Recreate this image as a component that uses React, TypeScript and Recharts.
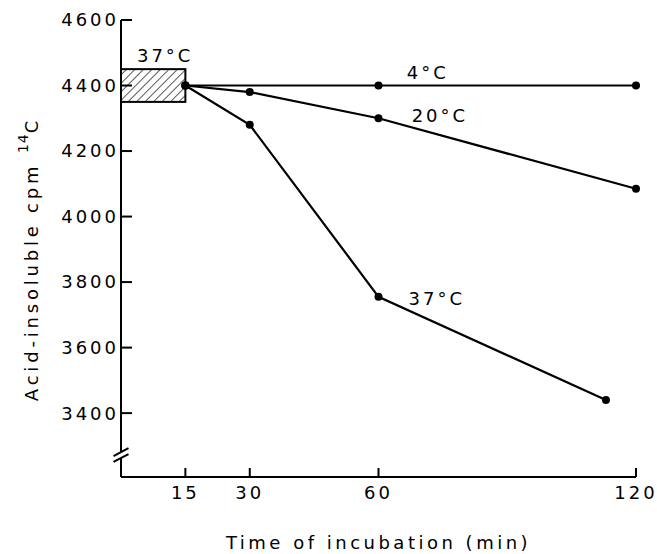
import React from 'react';
import { LineChart, Line, XAxis, YAxis, ReferenceArea, ReferenceLine, ReferenceDot } from 'recharts';

const t4 = [15, 60, 120];
const v4 = [4400, 4400, 4400];
const t20 = [15, 30, 60, 120];
const v20 = [4400, 4380, 4300, 4085];
const t37 = [15, 30, 60, 113];
const v37 = [4400, 4280, 3755, 3440];

const xTicks = [15, 30, 60, 120];
const yTicks = [3400, 3600, 3800, 4000, 4200, 4400, 4600];

// pre-incubation box (37°C, 0-15 min)
const boxX = [0, 15];
const boxY = [4350, 4450];

const notes = [
  { text: '4°C', x: 71.5, y: 4441 },
  { text: '20°C', x: 74.3, y: 4310 },
  { text: '37°C', x: 73.6, y: 3751 },
  { text: '37°C', x: 10.3, y: 4493 },
];

const toRows = (ts: number[], vs: number[]) => ts.map((t, i) => ({ t, v: vs[i] }));

const FONT = '"DejaVu Sans", sans-serif';
const txt = { fill: '#000', fontSize: 18, fontFamily: FONT, letterSpacing: 3 };

const HatchBox = (props: any) => {
  const { x, y, width, height } = props;
  return (
    <g>
      <defs>
        <pattern id="hatch" width="6" height="6" patternUnits="userSpaceOnUse" patternTransform="rotate(45)">
          <line x1="0" y1="0" x2="0" y2="6" stroke="#000" strokeWidth="1.3" />
        </pattern>
      </defs>
      <rect x={x} y={y} width={width} height={height} fill="url(#hatch)" stroke="#000" strokeWidth={2} />
    </g>
  );
};

const YTitle = (props: any) => {
  const vb = props.viewBox || { x: 0, y: 0, width: 0, height: 0 };
  const cx = vb.x - 30;
  const cy = 259;
  return (
    <text
      x={cx}
      y={cy}
      transform={`rotate(-90, ${cx}, ${cy})`}
      textAnchor="middle"
      dominantBaseline="central"
      fill="#000"
      fontSize={18}
      fontFamily={FONT}
      letterSpacing={3.8}
    >
      Acid-insoluble cpm{' '}
      <tspan dy={-8} fontSize={14} letterSpacing={1}>14</tspan>
      <tspan dy={8}>C</tspan>
    </text>
  );
};

const Note = (value: string) => (props: any) => {
  const vb = props.viewBox || {};
  const cx = vb.cx ?? (vb.x + (vb.width || 0) / 2);
  const cy = vb.cy ?? (vb.y + (vb.height || 0) / 2);
  return (
    <text x={cx} y={cy} textAnchor="middle" dominantBaseline="central" {...txt}>
      {value}
    </text>
  );
};

const series = [
  { name: '4°C', data: toRows(t4, v4) },
  { name: '20°C', data: toRows(t20, v20) },
  { name: '37°C', data: toRows(t37, v37) },
];

export default function App() {
  return (
    <div style={{ position: 'absolute', left: 0, top: 0, background: '#fff' }}>
      <LineChart width={657} height={554} margin={{ top: 20, right: 21, bottom: 17, left: 61 }}>
        <XAxis
          type="number"
          dataKey="t"
          domain={[0, 120]}
          ticks={xTicks}
          allowDuplicatedCategory={false}
          height={60}
          tickSize={-9}
          tickMargin={18}
          axisLine={{ stroke: '#000', strokeWidth: 2 }}
          tickLine={{ stroke: '#000', strokeWidth: 2 }}
          tick={txt}
          label={{ value: 'Time of incubation (min)', position: 'insideBottom', offset: -12, ...txt, letterSpacing: 3.5 }}
        />
        <YAxis
          type="number"
          dataKey="v"
          domain={[3205, 4600]}
          ticks={yTicks}
          width={60}
          tickSize={-11}
          tickMargin={13}
          axisLine={false}
          tickLine={{ stroke: '#000', strokeWidth: 2 }}
          tick={txt}
          label={<YTitle />}
        />
        <ReferenceLine segment={[{ x: 0, y: 4600 }, { x: 0, y: 3281 }]} stroke="#000" strokeWidth={2} ifOverflow="visible" />
        <ReferenceLine segment={[{ x: 0, y: 3263 }, { x: 0, y: 3205 }]} stroke="#000" strokeWidth={2} ifOverflow="visible" />
        <ReferenceLine segment={[{ x: -1.75, y: 3269 }, { x: 1.75, y: 3293 }]} stroke="#000" strokeWidth={2} ifOverflow="visible" />
        <ReferenceLine segment={[{ x: -1.75, y: 3251 }, { x: 1.75, y: 3275 }]} stroke="#000" strokeWidth={2} ifOverflow="visible" />
        <ReferenceArea x1={boxX[0]} x2={boxX[1]} y1={boxY[0]} y2={boxY[1]} shape={HatchBox} ifOverflow="visible" />
        {series.map((s) => (
          <Line
            key={s.name}
            data={s.data}
            dataKey="v"
            name={s.name}
            type="linear"
            stroke="#000"
            strokeWidth={2.2}
            dot={{ r: 4, fill: '#000', stroke: '#000', strokeWidth: 0 }}
            activeDot={false}
            isAnimationActive={false}
          />
        ))}
        {notes.map((n, i) => (
          <ReferenceDot key={i} x={n.x} y={n.y} r={0} fill="none" stroke="none" ifOverflow="visible" label={Note(n.text)} />
        ))}
      </LineChart>
    </div>
  );
}
